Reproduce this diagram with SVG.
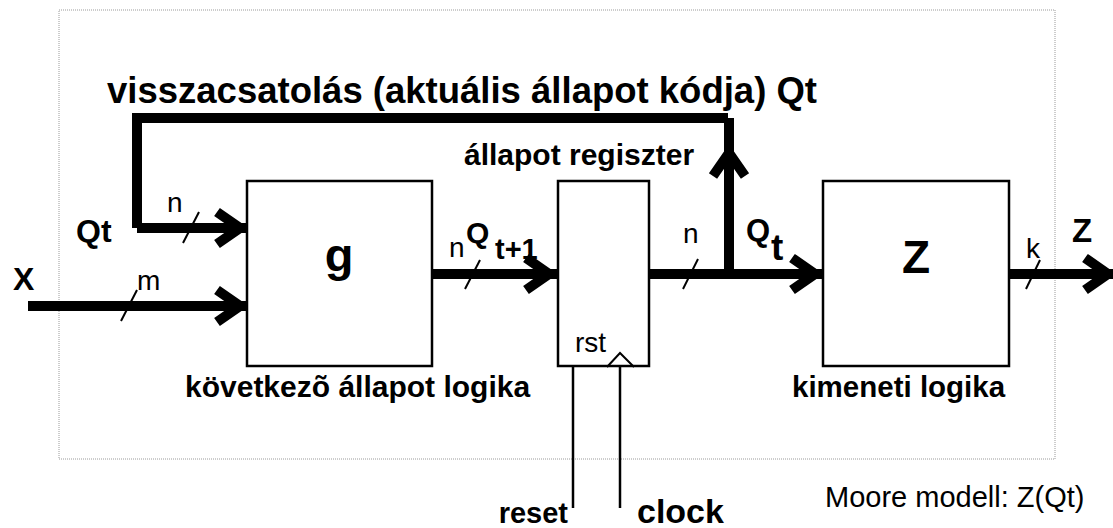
<svg xmlns="http://www.w3.org/2000/svg" width="1113" height="528" viewBox="0 0 1113 528">
<style>
.t{font-family:"Liberation Sans",Arial,sans-serif;fill:#000}
.b{font-weight:bold}
.box{fill:#fff;stroke:#000;stroke-width:2.5}
.bus{fill:none;stroke:#000;stroke-width:10;stroke-linecap:butt}
.thin{fill:none;stroke:#000;stroke-width:2}
.wire{fill:none;stroke:#000;stroke-width:2.5}
</style>
<defs>
<marker id="chev" markerUnits="userSpaceOnUse" viewBox="-45 -25 50 50" refX="0" refY="0" markerWidth="50" markerHeight="50" orient="auto" overflow="visible">
<path d="M-31,-16 L-8,0 L-31,16" fill="none" stroke="#000" stroke-width="10" stroke-linejoin="miter"/>
</marker>
</defs>
<rect x="59" y="10" width="996" height="449" fill="none" stroke="#9a9a9a" stroke-width="1" stroke-dasharray="1,1"/>
<text class="t b" x="107" y="103" font-size="36.5">visszacsatolás (aktuális állapot kódja) Qt</text>
<g id="connectors">
<path class="bus" d="M132,118 H728"/>
<path class="bus" d="M137,118 V228"/>
<path class="bus" d="M137,228 H248" marker-end="url(#chev)"/>
<path class="bus" d="M28,306 H248" marker-end="url(#chev)"/>
<path class="bus" d="M433,274 H557" marker-end="url(#chev)"/>
<path class="bus" d="M650,274 H823" marker-end="url(#chev)"/>
<path class="bus" d="M729,274 V145 V118" marker-mid="url(#chev)"/>
<path class="bus" d="M1010,274 H1116" marker-end="url(#chev)"/>
<path class="thin" d="M199,212 L183,243"/>
<path class="thin" d="M137,290 L121,321"/>
<path class="thin" d="M480,260 L465,289"/>
<path class="thin" d="M698,259 L683,289"/>
<path class="thin" d="M1040,260 L1026,289"/>
<path class="wire" d="M573,367 V508"/>
<path class="wire" d="M620,354 V508"/>
</g>
<g id="node-g">
<rect class="box" x="247" y="181" width="185" height="185"/>
<text class="t b" x="339" y="271" font-size="47" text-anchor="middle">g</text>
<text class="t b" x="185" y="397" font-size="30">következõ állapot logika</text>
</g>
<g id="node-register">
<rect class="box" x="558" y="181" width="91" height="185"/>
<polyline class="thin" points="607,367 620,353 634,367"/>
<text class="t" x="575" y="352" font-size="28">rst</text>
<text class="t b" x="464" y="165" font-size="30">állapot regiszter</text>
</g>
<g id="node-z">
<rect class="box" x="823" y="181" width="186" height="185"/>
<text class="t b" x="916" y="273" font-size="46" text-anchor="middle">Z</text>
<text class="t b" x="792" y="397" font-size="29.5">kimeneti logika</text>
</g>
<g id="labels">
<text class="t b" x="76" y="242" font-size="32">Qt</text>
<text class="t b" x="13" y="290" font-size="32">X</text>
<text class="t" x="137" y="290" font-size="28">m</text>
<text class="t" x="167" y="212" font-size="28">n</text>
<text class="t" x="449" y="257" font-size="28">n</text>
<text class="t b" x="466" y="243" font-size="30">Q</text>
<text class="t b" x="495" y="259" font-size="29">t+1</text>
<text class="t" x="683" y="243" font-size="28">n</text>
<text class="t b" x="746" y="241" font-size="31">Q</text>
<text class="t b" x="771" y="260" font-size="37">t</text>
<text class="t" x="1026" y="258" font-size="28">k</text>
<text class="t b" x="1072" y="242" font-size="33">Z</text>
<text class="t b" x="568" y="523" font-size="29" text-anchor="end">reset</text>
<text class="t b" x="637" y="523" font-size="34">clock</text>
<text class="t" x="825" y="507" font-size="29">Moore modell: Z(Qt)</text>
</g>
</svg>
